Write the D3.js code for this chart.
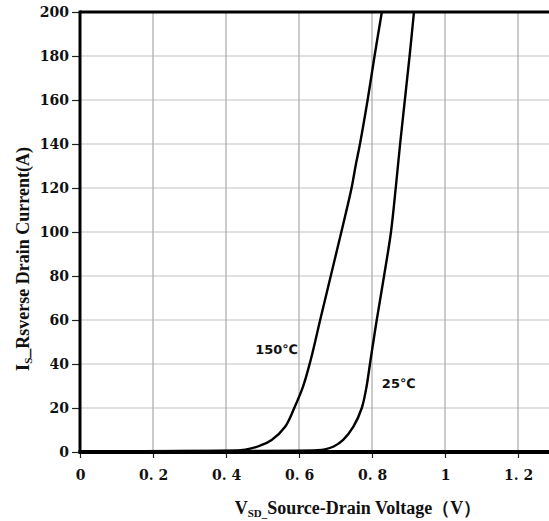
<!DOCTYPE html>
<html>
<head>
<meta charset="utf-8">
<script src="https://cdn.jsdelivr.net/npm/d3@7"></script>
<style>
  body { margin: 0; background: #fff; }
  svg { display: block; }
  .tick-label { font-family: "DejaVu Serif", serif; font-weight: bold; font-size: 14px; fill: #111; }
  .title { font-family: "Liberation Serif", serif; font-weight: bold; font-size: 18px; fill: #111; }
  .curve-label { font-family: "DejaVu Sans", sans-serif; font-weight: bold; font-size: 13px; fill: #111; }
</style>
</head>
<body>
<svg id="chart" width="549" height="521"></svg>
<script>
// axis ticks
const xTicks = [0, 0.2, 0.4, 0.6, 0.8, 1, 1.2];
const xTickLabels = ["0", "0. 2", "0. 4", "0. 6", "0. 8", "1", "1. 2"];
const yTicks = [0, 20, 40, 60, 80, 100, 120, 140, 160, 180, 200];

// 150°C curve (V, A)
const v150 = [0, 0.3, 0.44, 0.466, 0.495, 0.525, 0.562, 0.587, 0.611, 0.632, 0.658, 0.687, 0.716, 0.744, 0.755, 0.767, 0.788, 0.807, 0.827];
const i150 = [0.3, 0.5, 0.8, 1.5, 3, 5.5, 11.5, 20, 29.7, 41.8, 60, 80, 100, 120, 130, 140, 160, 180, 200];

// 25°C curve (V, A)
const v25 = [0, 0.4, 0.65, 0.671, 0.695, 0.721, 0.749, 0.772, 0.785, 0.796, 0.813, 0.833, 0.852, 0.865, 0.877, 0.89, 0.903, 0.915];
const i25 = [0.3, 0.5, 0.8, 1.2, 2.5, 5.5, 11.5, 20, 29.7, 41.8, 60, 80, 100, 120, 140, 160, 180, 200];

const curveLabels = ["150℃", "25℃"];

const svg = d3.select("#chart");
const mLeft = 80, mTop = 12, mBottom = 452, mRight = 549;

const x = d3.scaleLinear().domain([0, 1.3]).range([mLeft, mLeft + 1.3 * 365]);
const y = d3.scaleLinear().domain([0, 200]).range([mBottom, mTop]);

// grid
svg.append("g").selectAll("line")
    .data(yTicks.filter(d => d > 0 && d < 200))
    .join("line")
    .attr("x1", mLeft).attr("x2", mRight)
    .attr("y1", d => y(d)).attr("y2", d => y(d))
    .attr("stroke", "#c4c4c4").attr("stroke-width", 1.2);

svg.append("g").selectAll("line")
    .data(xTicks.filter(d => d > 0))
    .join("line")
    .attr("x1", d => x(d)).attr("x2", d => x(d))
    .attr("y1", mTop).attr("y2", mBottom)
    .attr("stroke", "#a8a8a8").attr("stroke-width", 1.2);

// y axis
const yAxis = svg.append("g")
    .attr("transform", `translate(${mLeft},0)`)
    .call(d3.axisLeft(y).tickValues(yTicks).tickSize(8).tickPadding(3));
yAxis.select(".domain").remove();
yAxis.selectAll(".tick line").attr("stroke", "#222").attr("stroke-width", 1.2);
yAxis.selectAll(".tick text").attr("class", "tick-label");
yAxis.attr("font-family", null).attr("font-size", null);

// x axis
const xAxis = svg.append("g")
    .attr("transform", `translate(0,${mBottom})`)
    .call(d3.axisBottom(x).tickValues(xTicks).tickSize(6).tickPadding(12)
        .tickFormat((d, i) => xTickLabels[i]));
xAxis.select(".domain").remove();
xAxis.selectAll(".tick line").attr("stroke", "#222").attr("stroke-width", 1.2);
xAxis.selectAll(".tick text").attr("class", "tick-label");
xAxis.attr("font-family", null).attr("font-size", null);

// frame lines
svg.append("line").attr("x1", mLeft).attr("x2", mRight).attr("y1", mTop).attr("y2", mTop)
    .attr("stroke", "#000").attr("stroke-width", 3);
svg.append("line").attr("x1", mLeft).attr("x2", mLeft).attr("y1", mTop - 1.5).attr("y2", mBottom)
    .attr("stroke", "#000").attr("stroke-width", 3);
svg.append("line").attr("x1", mLeft - 1.5).attr("x2", mRight).attr("y1", mBottom).attr("y2", mBottom)
    .attr("stroke", "#000").attr("stroke-width", 4);

// curves
const line = d3.line()
    .x(d => x(d[0]))
    .y(d => y(d[1]))
    .curve(d3.curveCatmullRom.alpha(0.5));

[[v150, i150], [v25, i25]].forEach(([vs, is]) => {
    svg.append("path")
        .datum(vs.map((v, i) => [v, is[i]]))
        .attr("d", line)
        .attr("fill", "none")
        .attr("stroke", "#000")
        .attr("stroke-width", 2.4);
});

// curve labels
svg.append("text").attr("class", "curve-label")
    .attr("x", x(0.48)).attr("y", y(44.5))
    .text(curveLabels[0]);
svg.append("text").attr("class", "curve-label")
    .attr("x", x(0.827)).attr("y", y(29))
    .text(curveLabels[1]);

// x title
const xt = svg.append("text").attr("class", "title")
    .attr("x", 358).attr("y", 514).attr("text-anchor", "middle");
xt.append("tspan").text("V");
xt.append("tspan").attr("font-size", "11px").attr("dy", 3).text("SD_");
xt.append("tspan").attr("dy", -3).text("Source-Drain Voltage（V）");

// y title
const yt = svg.append("text").attr("class", "title")
    .attr("transform", "translate(29,259) rotate(-90)")
    .attr("text-anchor", "middle");
yt.append("tspan").text("I");
yt.append("tspan").attr("font-size", "11px").attr("dy", 3).text("S");
yt.append("tspan").attr("dy", -3).text("_Rsverse Drain Current(A)");
</script>
</body>
</html>
